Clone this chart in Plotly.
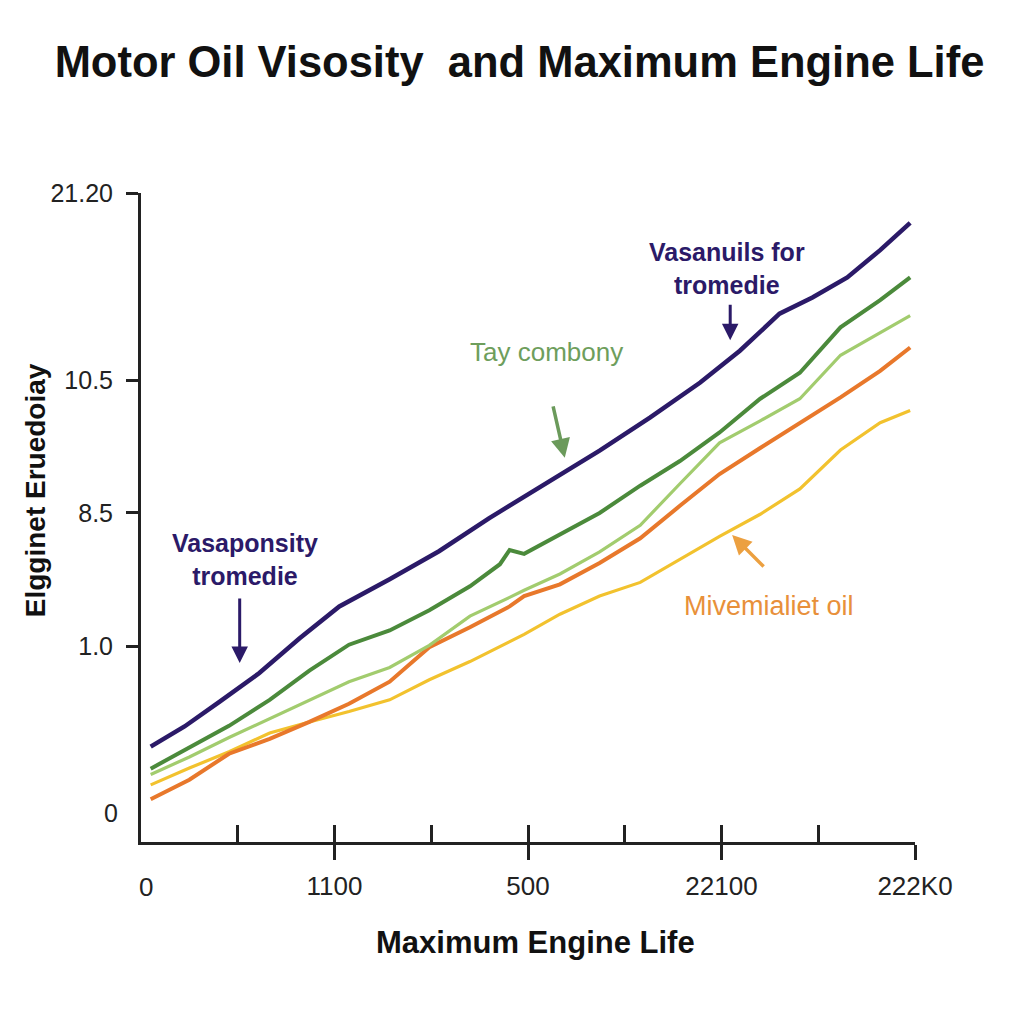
import plotly.graph_objects as go

# ---------------- data ----------------
x_grid = [0.10, 0.50, 0.91, 1.33, 1.74, 2.15, 2.57, 2.98, 3.40, 3.71, 3.81, 3.96,
          4.33, 4.74, 5.16, 5.57, 5.98, 6.40, 6.81, 7.23, 7.64, 7.95]

purple_x = [0.10, 0.45, 0.81, 1.22, 1.64, 2.05, 2.57, 3.08, 3.60, 4.17, 4.74, 5.26,
            5.78, 6.19, 6.60, 6.94, 7.30, 7.64, 7.95]
purple_y = [14.7, 17.8, 21.6, 26.0, 31.4, 36.3, 40.5, 44.8, 49.9, 55.2, 60.3, 65.4,
            70.8, 75.7, 81.4, 83.9, 87.0, 91.2, 95.4]

dark_green_y = [11.3, 14.5, 17.9, 21.9, 26.4, 30.4, 32.6, 35.7, 39.4, 42.8, 45.0, 44.4,
                47.4, 50.7, 54.9, 58.7, 63.1, 68.3, 72.3, 79.3, 83.5, 87.0]
light_green_y = [10.4, 13.1, 16.1, 19.0, 21.9, 24.7, 26.9, 30.3, 34.8, 36.9, 37.7, 38.8,
                 41.3, 44.7, 48.8, 55.2, 61.5, 64.9, 68.3, 75.0, 78.4, 81.1]
orange_y = [6.6, 9.6, 13.6, 15.9, 18.5, 21.3, 24.7, 30.0, 33.1, 35.5, 36.3, 37.9,
            39.7, 43.0, 46.8, 51.8, 56.7, 60.7, 64.5, 68.5, 72.6, 76.2]
yellow_y = [8.8, 11.4, 13.9, 16.8, 18.5, 20.1, 21.9, 25.0, 27.8, 30.1, 30.9, 32.0,
            35.1, 37.9, 40.0, 43.6, 47.1, 50.5, 54.4, 60.4, 64.6, 66.5]

x_tickvals = [2, 4, 6, 8]
x_ticktext = ["1100", "500", "22100", "222K0"]
x_all_ticks = [1, 2, 3, 4, 5, 6, 7, 8]
y_tickvals = [30.1, 50.7, 71.1, 100]
y_ticktext = ["1.0", "8.5", "10.5", "21.20"]

PURPLE = "#2b1a68"
DGREEN = "#4b8a3b"
LGREEN = "#a2cc6e"
ORANGE = "#e8782b"
YELLOW = "#f2c22e"

SANS = "Liberation Sans, Arial, sans-serif"

# the page body adds an 8px margin, so the figure is drawn 8px smaller
W = 1016
H = 1016

fig = go.Figure()

# invisible trace so the overlay tick axis is drawn
fig.add_trace(go.Scatter(x=[0], y=[0], xaxis="x2", mode="markers",
                         marker=dict(opacity=0), showlegend=False, hoverinfo="skip"))

fig.add_trace(go.Scatter(x=x_grid, y=yellow_y, mode="lines",
                         line=dict(color=YELLOW, width=3.2), showlegend=False))
fig.add_trace(go.Scatter(x=x_grid, y=orange_y, mode="lines",
                         line=dict(color=ORANGE, width=4), showlegend=False))
fig.add_trace(go.Scatter(x=x_grid, y=light_green_y, mode="lines",
                         line=dict(color=LGREEN, width=3.2), showlegend=False))
fig.add_trace(go.Scatter(x=x_grid, y=dark_green_y, mode="lines",
                         line=dict(color=DGREEN, width=4), showlegend=False))
fig.add_trace(go.Scatter(x=purple_x, y=purple_y, mode="lines",
                         line=dict(color=PURPLE, width=4.5), showlegend=False))

annotations = [
    # text labels
    dict(x=1.07, y=43.6, text="<b>Vasaponsity<br>tromedie</b>", showarrow=False,
         font=dict(family=SANS, size=25, color=PURPLE), align="center"),
    dict(x=6.06, y=88.4, text="<b>Vasanuils for<br>tromedie</b>", showarrow=False,
         font=dict(family=SANS, size=25, color=PURPLE), align="center"),
    dict(x=4.19, y=75.5, text="Tay combony", showarrow=False,
         font=dict(family=SANS, size=26, color="#6e9e5c")),
    dict(x=6.49, y=36.4, text="Mivemialiet oil", showarrow=False,
         font=dict(family=SANS, size=27, color="#e8903a")),
    # arrows
    dict(x=1.02, y=27.6, ax=0, ay=-66, text="", showarrow=True,
         arrowhead=2, arrowsize=1.1, arrowwidth=3, arrowcolor=PURPLE),
    dict(x=6.09, y=77.3, ax=0, ay=-37, text="", showarrow=True,
         arrowhead=2, arrowsize=1.1, arrowwidth=3, arrowcolor=PURPLE),
    dict(x=4.38, y=59.2, ax=-12, ay=-53, text="", showarrow=True,
         arrowhead=2, arrowsize=1.1, arrowwidth=3.5, arrowcolor="#6b9a5b"),
    dict(x=6.11, y=47.3, ax=33, ay=33, text="", showarrow=True,
         arrowhead=2, arrowsize=1.1, arrowwidth=3.5, arrowcolor="#eca040"),
    # origin labels
    dict(xref="paper", yref="y", x=0, y=4.5, text="0", showarrow=False,
         xanchor="right", xshift=-21, font=dict(family=SANS, size=25, color="#222")),
    dict(xref="x", yref="paper", x=0, y=0, text="0", showarrow=False,
         yanchor="middle", yshift=-45, xshift=5, font=dict(family=SANS, size=26, color="#222")),
    # axis titles
    dict(xref="paper", yref="paper", x=0.51, y=-0.155, text="<b>Maximum Engine Life</b>",
         showarrow=False, yanchor="middle", font=dict(family=SANS, size=31, color="#111")),
    dict(xref="paper", yref="paper", x=-0.137, y=0.542, text="<b>Elgginet Eruedoiay</b>",
         showarrow=False, textangle=-90, xanchor="center", yanchor="middle",
         font=dict(family=SANS, size=28, color="#111")),
]

fig.update_layout(
    width=W, height=H,
    paper_bgcolor="white", plot_bgcolor="white",
    margin=dict(l=133, r=109, t=185, b=182),
    title=dict(text="<b>Motor Oil Visosity\u00a0 and Maximum Engine Life</b>",
               x=511.5 / W, xanchor="center", y=1 - 54 / H, yanchor="middle",
               xref="container", yref="container",
               font=dict(family=SANS, size=43.5, color="#111")),
    xaxis=dict(range=[0, 8], tickvals=x_tickvals, ticktext=x_ticktext,
               ticks="outside", ticklen=15, tickwidth=2.5, tickcolor="#222",
               showline=True, linewidth=3, linecolor="#222",
               showgrid=False, zeroline=False, ticklabelstandoff=4,
               tickfont=dict(family=SANS, size=26, color="#222")),
    xaxis2=dict(range=[0, 8], overlaying="x", anchor="y", side="bottom",
                tickvals=x_all_ticks, ticks="inside", ticklen=17, tickwidth=2.5,
                tickcolor="#222", showticklabels=False, showline=False,
                showgrid=False, zeroline=False),
    yaxis=dict(range=[0, 100], tickvals=y_tickvals, ticktext=y_ticktext,
               ticks="outside", ticklen=12, tickwidth=2.5, tickcolor="#222",
               showline=True, linewidth=3, linecolor="#222",
               showgrid=False, zeroline=False, ticklabelstandoff=8,
               tickfont=dict(family=SANS, size=25, color="#222")),
    annotations=annotations,
)

fig.write_html("out.html")
